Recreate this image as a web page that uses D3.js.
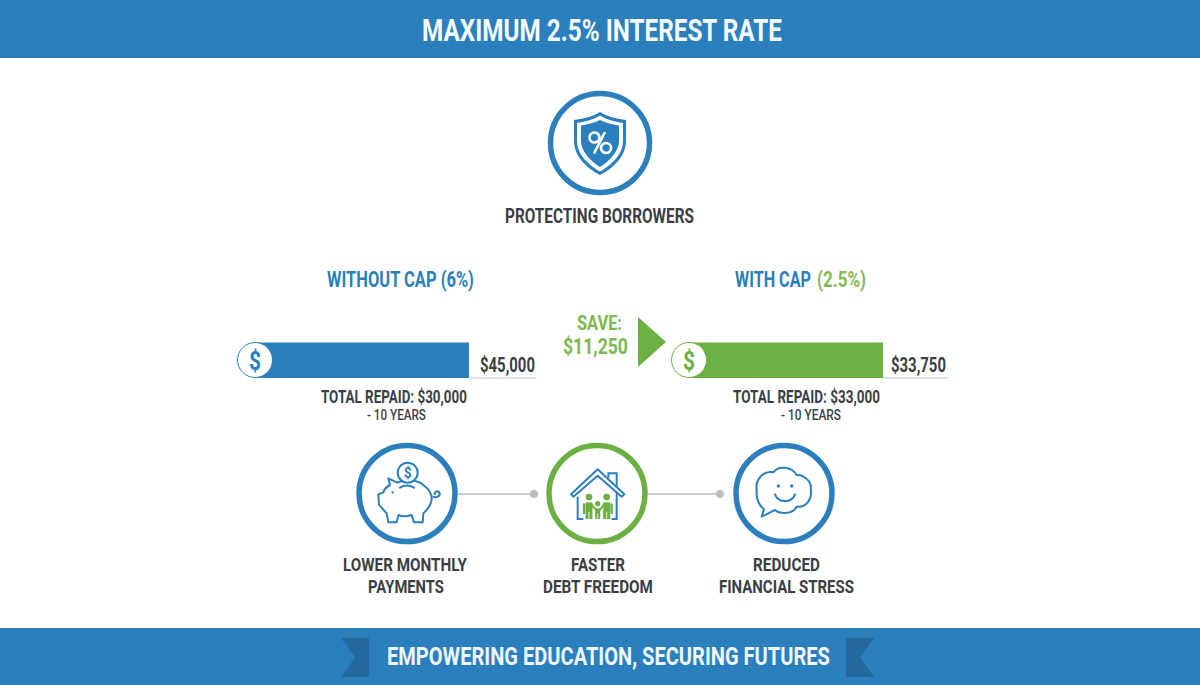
<!DOCTYPE html>
<html>
<head>
<meta charset="utf-8">
<script src="https://cdn.jsdelivr.net/npm/d3@7"></script>
<style>
  html, body { margin: 0; padding: 0; background: #fff; }
  text { font-family: Roboto, "Open Sans", sans-serif; font-weight: 700; }
</style>
</head>
<body>
<div id="container"></div>
<script>
// Chart values
const barNames = ["WITHOUT CAP", "WITH CAP"];
const barRates = ["(6%)", "(2.5%)"];
const barValues = [45000, 33750];
const barValueLabels = ["$45,000", "$33,750"];
const repaidLabels = ["TOTAL REPAID: $30,000", "TOTAL REPAID: $33,000"];
const termLabels = ["- 10 YEARS", "- 10 YEARS"];
const benefitLabels = [["LOWER MONTHLY", "PAYMENTS"], ["FASTER", "DEBT FREEDOM"], ["REDUCED", "FINANCIAL STRESS"]];
const saveLabels = ["SAVE:", "$11,250"];
const titleLabel = "MAXIMUM 2.5% INTEREST RATE";
const footerLabel = "EMPOWERING EDUCATION, SECURING FUTURES";
const topLabel = "PROTECTING BORROWERS";

const WIDTH = 1200;
const HEIGHT = 685;
const BLUE = "#2b7fbd";
const GREEN = "#6cb043";
const GREEN_TEXT = "#7db84e";
const DARK = "#3b3f45";
const RIBBON = "#23689f";
const GREY = "#bdbdbd";

const svg = d3.select("#container")
    .append("svg")
    .attr("width", WIDTH)
    .attr("height", HEIGHT)
    .style("display", "block");

// Text squeezed to the measured width, the installed fonts have no condensed cut
function addText(parent, str, x0, x1, baseline, size, color, weight)
{
    const label = parent.append("text")
        .style("font-size", size + "px")
        .style("font-weight", weight || 700)
        .attr("fill", color)
        .text(str);
    const natural = label.node().getComputedTextLength();
    label.attr("transform", "translate(" + x0 + "," + baseline + ") scale(" + (x1 - x0) / natural + ",1)");
    return label;
}

function addRing(cx, cy, r, color)
{
    svg.append("circle")
        .attr("cx", cx)
        .attr("cy", cy)
        .attr("r", r)
        .attr("fill", "#fff")
        .attr("stroke", color)
        .attr("stroke-width", 5.5);
    return svg.append("g").attr("transform", "translate(" + cx + "," + cy + ")");
}

// Header and footer bands
svg.append("rect").attr("width", WIDTH).attr("height", 58).attr("fill", BLUE);
svg.append("rect").attr("y", 628).attr("width", WIDTH).attr("height", 57).attr("fill", BLUE);
addText(svg, titleLabel, 422, 782, 41, 31.5, "#f4f9fc");
addText(svg, footerLabel, 387, 830, 665, 26.5, "#eef6fb");

// Ribbon ends
svg.append("path").attr("fill", RIBBON).attr("d", "M341,638 L369,638 L369,677 L341,677 L355,657.5 Z");
svg.append("path").attr("fill", RIBBON).attr("d", "M846,638 L874,638 L860,657.5 L874,677 L846,677 Z");

// Shield icon
const shield = addRing(600, 143, 49.5, BLUE);
shield.append("path").attr("fill", BLUE)
    .attr("d", "M0,-31 C8,-26 18,-24 26,-23 L26,-2 C26,14 12,26 0,32 C-12,26 -26,14 -26,-2 L-26,-23 C-18,-24 -8,-26 0,-31 Z");
shield.append("path").attr("fill", "#fff")
    .attr("d", "M0,-27.5 C7,-23 16,-21 23,-20 L23,-2 C23,12 10,23 0,28.5 C-10,23 -23,12 -23,-2 L-23,-20 C-16,-21 -7,-23 0,-27.5 Z");
shield.append("path").attr("fill", BLUE)
    .attr("d", "M0,-23 C6,-20 13,-18.5 19,-17.5 L19,-2 C19,9 8,19 0,24 C-8,19 -19,9 -19,-2 L-19,-17.5 C-13,-18.5 -6,-20 0,-23 Z");
shield.append("circle").attr("cx", -5.5).attr("cy", -5.5).attr("r", 5).attr("fill", "none").attr("stroke", "#fff").attr("stroke-width", 2.6);
shield.append("circle").attr("cx", 6).attr("cy", 5).attr("r", 5).attr("fill", "none").attr("stroke", "#fff").attr("stroke-width", 2.6);
shield.append("path").attr("d", "M5,-11 L-6,10.5").attr("stroke", "#fff").attr("stroke-width", 2.6).attr("fill", "none");
addText(svg, topLabel, 505, 694, 222.5, 19.5, DARK);

// Headings
addText(svg, barNames[0] + " " + barRates[0], 327, 474, 287, 21.5, BLUE);
addText(svg, barNames[1], 735, 811, 287, 21.5, BLUE);
addText(svg, barRates[1], 817, 866, 287, 21.5, "#86b955");

// Bars, the picture does not start its lengths at zero
const barLength = d3.scaleLinear().domain([33750, 45000]).range([194, 214]);
const barStartX = [255, 689];
const barColors = [BLUE, GREEN];
const ruleEndX = [536, 948];
const valueX = [[480, 535], [891, 946]];
const repaidX = [[321, 467], [733, 880]];
const termX = [[367, 426], [781, 841]];

barValues.forEach((v, i) => {
    const barEnd = barStartX[i] + barLength(v);
    svg.append("line")
        .attr("x1", barEnd).attr("x2", ruleEndX[i])
        .attr("y1", 378).attr("y2", 378)
        .attr("stroke", "#c4c4c4").attr("stroke-width", 1);
    svg.append("rect")
        .attr("x", barStartX[i])
        .attr("y", 342.5)
        .attr("width", barLength(v))
        .attr("height", 35.5)
        .attr("fill", barColors[i]);
    svg.append("circle")
        .attr("cx", barStartX[i]).attr("cy", 360).attr("r", 17.5)
        .attr("fill", "#fff").attr("stroke", barColors[i]).attr("stroke-width", 1);
    addText(svg, "$", barStartX[i] - 6, barStartX[i] + 6, 369.5, 26, barColors[i]);
    addText(svg, barValueLabels[i], valueX[i][0], valueX[i][1], 372, 20, DARK);
    addText(svg, repaidLabels[i], repaidX[i][0], repaidX[i][1], 403, 18.5, DARK);
    addText(svg, termLabels[i], termX[i][0], termX[i][1], 420, 14.5, DARK, 500);
});

// Savings callout
addText(svg, saveLabels[0], 577, 622, 330, 20, GREEN_TEXT);
addText(svg, saveLabels[1], 563, 628, 354, 21.5, GREEN_TEXT);
svg.append("path").attr("fill", GREEN).attr("d", "M638,317 L666,342 L638,367 Z");

// Connectors under the icons
const benefitX = [407, 597, 784];
const connectorEnds = [[458, 534], [648, 720]];
connectorEnds.forEach(c => {
    svg.append("line")
        .attr("x1", c[0]).attr("x2", c[1])
        .attr("y1", 494).attr("y2", 494)
        .attr("stroke", GREY).attr("stroke-width", 1.5);
    svg.append("circle").attr("cx", c[1]).attr("cy", 494).attr("r", 4).attr("fill", GREY);
});

// Piggy bank, drawn in zoomed units
const pig = addRing(benefitX[0], 493.5, 48, BLUE).append("g")
    .attr("transform", "scale(0.3333) translate(-201,-175.5)")
    .attr("fill", "none").attr("stroke", BLUE).attr("stroke-width", 6).attr("stroke-linejoin", "round");
pig.append("path").attr("fill", "#fff")
    .attr("d", "M145,130 L172,143 C190,135 230,132 250,150 C270,165 280,185 272,205 C265,225 255,228 250,235 L248,262 L222,262 L215,240 C200,245 185,245 175,240 L170,262 L145,262 L140,235 C130,225 125,215 117,210 L115,178 L130,172 C133,160 140,155 150,150 Z");
pig.append("path").attr("d", "M278,185 C290,190 303,182 298,172 C292,165 280,172 285,180");
pig.append("path").attr("d", "M180,158 C192,150 208,150 222,158").attr("stroke-linecap", "round");
pig.append("circle").attr("cx", 158).attr("cy", 172).attr("r", 3.5).attr("fill", BLUE).attr("stroke", "none");
pig.append("circle").attr("cx", 203).attr("cy", 113).attr("r", 30).attr("fill", "#fff");
pig.append("text").attr("x", 203).attr("y", 128).attr("text-anchor", "middle")
    .style("font-size", "42px").attr("fill", BLUE).attr("stroke", "none").text("$");

// House with family
const house = addRing(benefitX[1], 493.5, 48, GREEN).append("g")
    .attr("transform", "scale(0.3333) translate(-771,-175.5)");
house.append("path").attr("fill", "none").attr("stroke", BLUE).attr("stroke-width", 6)
    .attr("d", "M713,185 L713,252 L730,252 M830,150 L830,252 L815,252 M805,128 L805,115 L830,115 L830,150");
house.append("path").attr("fill", "#fff").attr("stroke", BLUE).attr("stroke-width", 6).attr("stroke-linejoin", "round")
    .attr("d", "M693,178 L773,103 L853,178 L845,185 L773,122 L700,185 Z");

const figureX = [747, 800];
const figureSide = [-1, 1];
figureX.forEach((x, i) => {
    const s = figureSide[i];
    house.append("circle").attr("cx", x).attr("cy", 186).attr("r", 10).attr("fill", GREEN);
    house.append("path").attr("fill", "none").attr("stroke", GREEN).attr("stroke-width", 21).attr("d", `M${x},202 L${x},252`);
    house.append("path").attr("fill", "none").attr("stroke", GREEN).attr("stroke-width", 7).attr("stroke-linecap", "round").attr("d", `M${x + s * 15},208 L${x + s * 15},234`);
    house.append("path").attr("fill", "none").attr("stroke", GREEN).attr("stroke-width", 6).attr("d", `M${x - s * 8},208 L${x - s * 24},230`);
    house.append("path").attr("fill", "none").attr("stroke", "#fff").attr("stroke-width", 2.5).attr("d", `M${x},230 L${x},252`);
});
house.append("circle").attr("cx", 773).attr("cy", 206).attr("r", 8).attr("fill", GREEN);
house.append("path").attr("fill", "none").attr("stroke", GREEN).attr("stroke-width", 15).attr("d", "M773,220 L773,252");
house.append("path").attr("fill", "none").attr("stroke", "#fff").attr("stroke-width", 2.5).attr("d", "M773,236 L773,252");

// Speech cloud
const cloud = addRing(benefitX[2], 493.5, 48, BLUE).append("g")
    .attr("transform", "scale(0.3333) translate(-492,-175.5)")
    .attr("fill", "none").attr("stroke", BLUE).attr("stroke-width", 6).attr("stroke-linejoin", "round");
cloud.append("path")
    .attr("d", "M432,222 L425,245 L465,225 C480,238 520,238 530,215 C560,218 578,190 572,165 C578,140 550,118 530,120 C515,95 475,90 460,112 C430,105 405,135 410,165 C408,190 415,210 432,222 Z");
cloud.append("circle").attr("cx", 475).attr("cy", 153).attr("r", 5).attr("fill", BLUE).attr("stroke", "none");
cloud.append("circle").attr("cx", 515).attr("cy", 153).attr("r", 5).attr("fill", BLUE).attr("stroke", "none");
cloud.append("path").attr("d", "M465,178 C475,205 515,205 525,178").attr("stroke-linecap", "round");

// Benefit captions
const benefitTextX = [[[343, 467], [368, 444]], [[571, 625], [543, 653]], [[753, 820], [719, 854]]];
const benefitBaseY = [571, 593];
benefitLabels.forEach((lines, i) => {
    lines.forEach((line, j) => {
        addText(svg, line, benefitTextX[i][j][0], benefitTextX[i][j][1], benefitBaseY[j], 19, DARK);
    });
});
</script>
</body>
</html>
